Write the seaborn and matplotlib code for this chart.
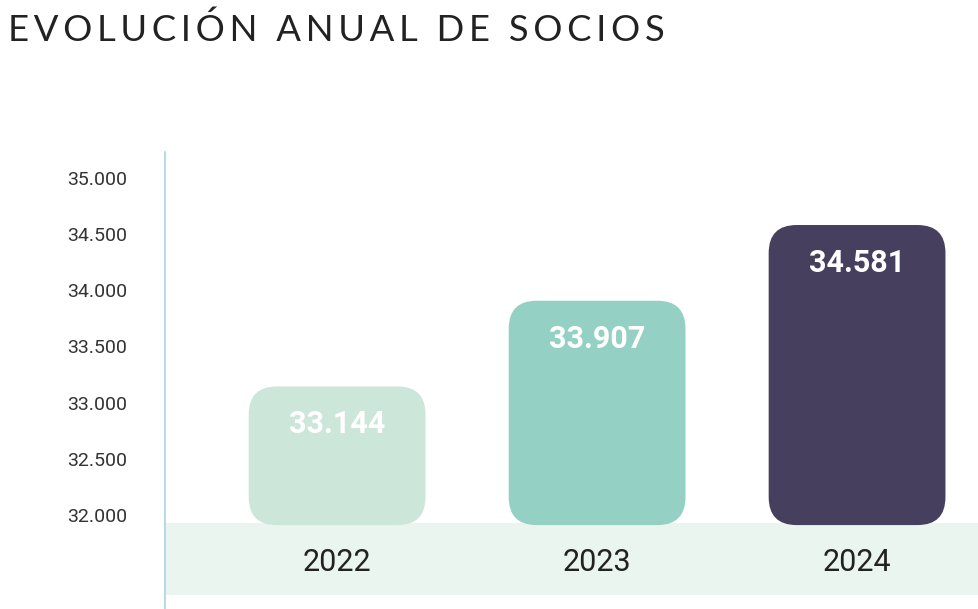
import matplotlib
matplotlib.use("Agg")
import matplotlib.pyplot as plt
import seaborn as sns
import pandas as pd
from matplotlib.patches import FancyBboxPatch, Rectangle

years = ["2022", "2023", "2024"]
socios = [33144, 33907, 34581]
labels = ["33.144", "33.907", "34.581"]
colors = ["#cce6d9", "#95d0c4", "#463f5e"]
yticks = [32000, 32500, 33000, 33500, 34000, 34500, 35000]
ytick_labels = ["32.000", "32.500", "33.000", "33.500", "34.000", "34.500", "35.000"]
base = 31910

W, H = 979, 609
fig = plt.figure(figsize=(W/100, H/100), dpi=100)
ax = fig.add_axes([165/W, 0, (W-165)/W, (609-152)/H])
df = pd.DataFrame({"year": years, "v": [s - base for s in socios]})
sns.barplot(data=df, x="year", y="v", hue="year", palette=colors, width=0.68,
            legend=False, ax=ax, bottom=base)
ax.set_xlim(-0.662, 2.469)
ax.set_ylim(31163, 35231)

ax.add_patch(Rectangle((-0.662, 31163 + 14*8.9), 3.2, 72*8.9, color="#e9f5ee", zorder=0, lw=0))

xpp = 1/260.0
ypp = 8.9
for p, c, lab in zip(list(ax.patches)[:3], colors, labels):
    x0, y0, w, h = p.get_x(), p.get_y(), p.get_width(), p.get_height()
    p.set_visible(False)
    r = 28 * xpp
    fb = FancyBboxPatch((x0 + r, y0 + r*ypp/xpp), w - 2*r, h - 2*r*ypp/xpp,
                        boxstyle=f"round,pad={r},rounding_size={r}",
                        mutation_aspect=ypp/xpp, fc=c, ec="none", zorder=2)
    ax.add_patch(fb)
    ax.text(x0 + w/2, y0 + h - 38*ypp, lab, ha="center", va="center", color="white",
            fontsize=22, fontweight="bold", family="Roboto", zorder=3)

for i, y in enumerate(years):
    ax.text(i, 31163 + 47*ypp, y, ha="center", va="center", fontsize=22,
            family="Roboto", color="#222222", zorder=3)

ax.set_yticks(yticks)
ax.set_yticklabels(ytick_labels, family="Roboto", fontsize=14, color="#333333")
ax.tick_params(axis="y", length=0, pad=27)
ax.set_xticks([])
ax.set_xlabel(""); ax.set_ylabel("")
for s in ["top", "right", "bottom"]:
    ax.spines[s].set_visible(False)
ax.spines["left"].set_color("#a8d3e3")
ax.spines["left"].set_linewidth(1.2)

fig.text(8/W, 1 - 30/H, "E V O L U C I Ó N   A N U A L   D E   S O C I O S".replace(" ", "\u2009").replace("\u2009\u2009\u2009", "  "),
         fontsize=26.3, family="Lato", color="#222222", va="center", ha="left")
fig.savefig("out.png", dpi=100, facecolor="white")
